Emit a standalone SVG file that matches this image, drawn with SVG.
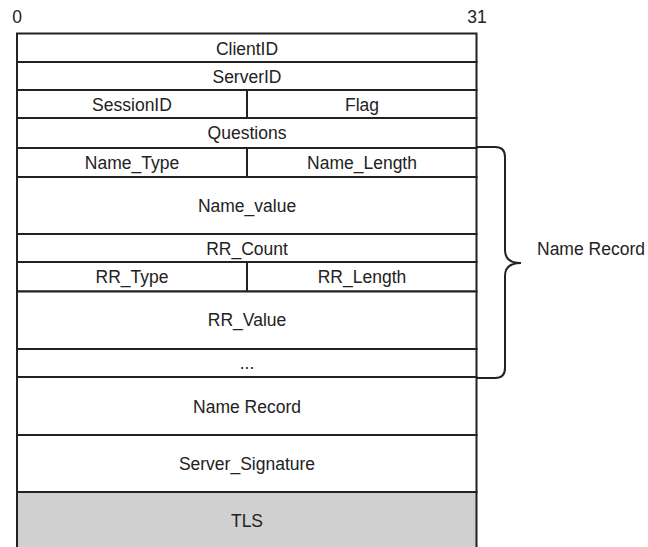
<svg xmlns="http://www.w3.org/2000/svg" width="648" height="547" viewBox="0 0 648 547">
<style>
text{font-family:"Liberation Sans",Arial,sans-serif;font-size:17.5px;fill:#222;text-anchor:middle}
.cell{fill:#fff;stroke:#222;stroke-width:2}
.gray{fill:#d0d0d0;stroke:#222;stroke-width:2}
.brace{fill:none;stroke:#222;stroke-width:2}
</style>
<rect width="648" height="547" fill="#fff"/>
<g id="scale">
<text x="17" y="23">0</text>
<text x="477" y="23">31</text>
</g>
<g id="clientid"><rect class="cell" x="17" y="33.5" width="459.5" height="28.5"/><text x="247" y="55">ClientID</text></g>
<g id="serverid"><rect class="cell" x="17" y="62" width="459.5" height="28"/><text x="247" y="82.5">ServerID</text></g>
<g id="sessionid"><rect class="cell" x="17" y="90" width="230" height="28"/><text x="132" y="111">SessionID</text></g>
<g id="flag"><rect class="cell" x="247" y="90" width="229.5" height="28"/><text x="362" y="111">Flag</text></g>
<g id="questions"><rect class="cell" x="17" y="118" width="459.5" height="30"/><text x="247" y="139">Questions</text></g>
<g id="name_type"><rect class="cell" x="17" y="148" width="230" height="29"/><text x="132" y="168.5">Name_Type</text></g>
<g id="name_length"><rect class="cell" x="247" y="148" width="229.5" height="29"/><text x="362" y="168.5">Name_Length</text></g>
<g id="name_value"><rect class="cell" x="17" y="177" width="459.5" height="57"/><text x="247" y="211.5">Name_value</text></g>
<g id="rr_count"><rect class="cell" x="17" y="234" width="459.5" height="28"/><text x="247" y="254.5">RR_Count</text></g>
<g id="rr_type"><rect class="cell" x="17" y="262" width="230" height="29.5"/><text x="132" y="283">RR_Type</text></g>
<g id="rr_length"><rect class="cell" x="247" y="262" width="229.5" height="29.5"/><text x="362" y="283">RR_Length</text></g>
<g id="rr_value"><rect class="cell" x="17" y="291.5" width="459.5" height="57.5"/><text x="247" y="326">RR_Value</text></g>
<g id="ellipsis"><rect class="cell" x="17" y="349" width="459.5" height="28"/><text x="247" y="369">...</text></g>
<g id="name_record"><rect class="cell" x="17" y="377" width="459.5" height="58"/><text x="247" y="412.5">Name Record</text></g>
<g id="server_signature"><rect class="cell" x="17" y="435" width="459.5" height="57"/><text x="247" y="470">Server_Signature</text></g>
<g id="tls"><rect class="gray" x="17" y="492" width="459.5" height="60"/><text x="247" y="527">TLS</text></g>
<g id="connectors">
<path class="brace" d="M477,147 H495 Q505,147 505,157 V250 Q505,263 521,263 Q505,263 505,276 V368 Q505,378 495,378 H477"/>
</g>
<g id="name_record_label"><text x="537" y="255" style="text-anchor:start">Name Record</text></g>
</svg>
